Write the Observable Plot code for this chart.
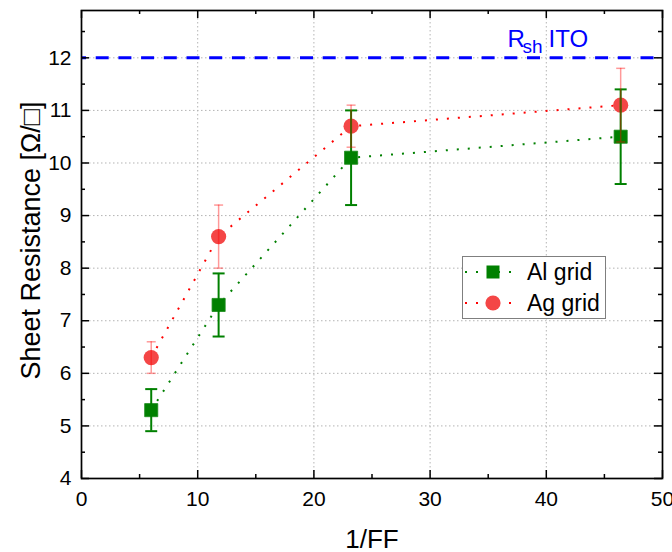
<!DOCTYPE html>
<html><head><meta charset="utf-8">
<script src="https://cdn.jsdelivr.net/npm/d3@7"></script>
<script src="https://cdn.jsdelivr.net/npm/@observablehq/plot@0.6"></script>
<style>
html,body{margin:0;padding:0;background:#fff;}
#wrap{position:relative;width:672px;height:552px;font-family:"Liberation Sans",Arial,sans-serif;}
#legend{position:absolute;left:462px;top:256px;width:144px;height:63px;box-sizing:border-box;border:1px solid #7f7f7f;background:#fff;}
</style></head><body><div id="wrap"></div>
<script>
// ---- data ----
const invFF = [6, 11.8, 23.2, 46.4];
const alRs = [5.3, 7.3, 10.1, 10.5];
const alErr = [0.4, 0.6, 0.9, 0.9];
const agRs = [6.3, 8.6, 10.7, 11.1];
const agErr = [0.3, 0.6, 0.4, 0.7];
const seriesNames = ["Al grid", "Ag grid"];
const itoRs = 12;
const itoLabel = ["R", "sh", "ITO"];
const xTicks = [0, 10, 20, 30, 40, 50];
const xMinor = [5, 15, 25, 35, 45];
const yTicks = [4, 5, 6, 7, 8, 9, 10, 11, 12];
const yMinor = [4.5, 5.5, 6.5, 7.5, 8.5, 9.5, 10.5, 11.5, 12.5];
const xGrid = [10, 20, 30, 40];
const yGrid = [5, 6, 7, 8, 9, 10, 11, 12];
const xLabel = "1/FF";
const yLabel = "Sheet Resistance [Ω/□]";

const al = invFF.map((x, i) => ({x, y: alRs[i], e: alErr[i]}));
const ag = invFF.map((x, i) => ({x, y: agRs[i], e: agErr[i]}));

const W = 672, H = 552, mL = 81, mR = 10, mT = 10, mB = 74;
const fw = W - mL - mR, fh = H - mT - mB;
const green = "#008000", red = "#ff0000", redFill = "#f44646";

const cap = w => ({draw(ctx) { ctx.moveTo(-w / 2, 0); ctx.lineTo(w / 2, 0); }});
const font = "Liberation Sans, Arial, sans-serif";
const fmt = d => String(d);

const chart = Plot.plot({
  width: W, height: H,
  marginLeft: mL, marginRight: mR, marginTop: mT, marginBottom: mB,
  style: {fontFamily: font, fontSize: "21px", color: "black", background: "white"},
  x: {domain: [0, 50], label: null},
  y: {domain: [4, 12.9], label: null},
  marks: [
    Plot.gridX(xGrid, {stroke: "#b4b4b4", strokeOpacity: 1, strokeWidth: 1, strokeDasharray: "1.5,2.5"}),
    Plot.gridY(yGrid, {stroke: "#b4b4b4", strokeOpacity: 1, strokeWidth: 1, strokeDasharray: "1.5,2.5"}),
    Plot.ruleY([itoRs], {stroke: "#0000ff", strokeWidth: 3, strokeDasharray: "13,9.7", strokeDashoffset: 8}),
    Plot.text([itoRs], {y: d => d, frameAnchor: "left", dx: 426, dy: -10.6, lineAnchor: "bottom", textAnchor: "start", text: () => itoLabel[0], fill: "#0000ff", fontSize: 24}),
    Plot.text([itoRs], {y: d => d, frameAnchor: "left", dx: 441, dy: -5.3, lineAnchor: "bottom", textAnchor: "start", text: () => itoLabel[1], fill: "#0000ff", fontSize: 19}),
    Plot.text([itoRs], {y: d => d, frameAnchor: "left", dx: 467, dy: -10.6, lineAnchor: "bottom", textAnchor: "start", text: () => itoLabel[2], fill: "#0000ff", fontSize: 24}),
    Plot.line(al, {x: "x", y: "y", stroke: green, strokeWidth: 2, strokeDasharray: "2,9", strokeLinecap: "butt"}),
    Plot.line(ag, {x: "x", y: "y", stroke: red, strokeWidth: 2, strokeDasharray: "2,9", strokeLinecap: "butt"}),
    Plot.dot(al, {x: "x", y: "y", symbol: "square", r: 7.4, fill: green, stroke: "#1a8a1a", strokeWidth: 0.8}),
    Plot.dot(ag, {x: "x", y: "y", r: 7.6, fill: redFill, stroke: "none"}),
    Plot.ruleX(al, {x: "x", y1: d => d.y - d.e, y2: d => d.y + d.e, stroke: green, strokeWidth: 2}),
    Plot.dot(al, {x: "x", y: d => d.y + d.e, symbol: cap(12), fill: "none", stroke: green, strokeWidth: 2}),
    Plot.dot(al, {x: "x", y: d => d.y - d.e, symbol: cap(12), fill: "none", stroke: green, strokeWidth: 2}),
    Plot.ruleX(ag, {x: "x", y1: d => d.y - d.e, y2: d => d.y + d.e, stroke: red, strokeOpacity: 0.4, strokeWidth: 1.5}),
    Plot.dot(ag, {x: "x", y: d => d.y + d.e, symbol: cap(9), fill: "none", stroke: red, strokeOpacity: 0.4, strokeWidth: 1.5}),
    Plot.dot(ag, {x: "x", y: d => d.y - d.e, symbol: cap(9), fill: "none", stroke: red, strokeOpacity: 0.4, strokeWidth: 1.5}),
    // inward ticks on all four sides
    Plot.tickY(yTicks, {y: d => d, insetRight: fw - 8, stroke: "black", strokeWidth: 1.5}),
    Plot.tickY(yMinor, {y: d => d, insetRight: fw - 4, stroke: "black", strokeWidth: 1.5}),
    Plot.tickY(yTicks, {y: d => d, insetLeft: fw - 8, stroke: "black", strokeWidth: 1.5}),
    Plot.tickY(yMinor, {y: d => d, insetLeft: fw - 4, stroke: "black", strokeWidth: 1.5}),
    Plot.tickX(xTicks, {x: d => d, insetTop: fh - 8, stroke: "black", strokeWidth: 1.5}),
    Plot.tickX(xMinor, {x: d => d, insetTop: fh - 4, stroke: "black", strokeWidth: 1.5}),
    Plot.tickX(xTicks, {x: d => d, insetBottom: fh - 8, stroke: "black", strokeWidth: 1.5}),
    Plot.tickX(xMinor, {x: d => d, insetBottom: fh - 4, stroke: "black", strokeWidth: 1.5}),
    Plot.frame({stroke: "black", strokeWidth: 1.7}),
    Plot.axisX(xTicks, {tickSize: 0, tickPadding: 13, label: null, fontSize: 21, tickFormat: fmt}),
    Plot.axisY(yTicks, {tickSize: 0, tickPadding: 10, label: null, fontSize: 21, tickFormat: fmt}),
    Plot.text([xLabel], {frameAnchor: "bottom", dy: 69, lineAnchor: "bottom", textAnchor: "middle", text: d => d, fontSize: 26}),
    Plot.text([yLabel], {frameAnchor: "left", rotate: -90, dx: -50, dy: -4, textAnchor: "middle", text: d => d, fontSize: 27})
  ]
});
const wrap = document.getElementById("wrap");
wrap.appendChild(chart);

// legend
const lg = document.createElement("div");
lg.id = "legend";
lg.innerHTML = `<svg width="142" height="61" xmlns="http://www.w3.org/2000/svg" style="display:block">
  <line x1="2" x2="54" y1="15" y2="15" stroke="${green}" stroke-width="2" stroke-dasharray="2,9"/>
  <rect x="23.5" y="8.5" width="13" height="13" fill="${green}"/>
  <text x="64" y="22.5" font-family="${font}" font-size="23">${seriesNames[0]}</text>
  <line x1="2" x2="54" y1="46" y2="46" stroke="${red}" stroke-width="2" stroke-dasharray="2,9"/>
  <circle cx="30" cy="46" r="7.6" fill="${redFill}"/>
  <text x="64" y="53.5" font-family="${font}" font-size="23">${seriesNames[1]}</text>
</svg>`;
wrap.appendChild(lg);
</script>
</body></html>
